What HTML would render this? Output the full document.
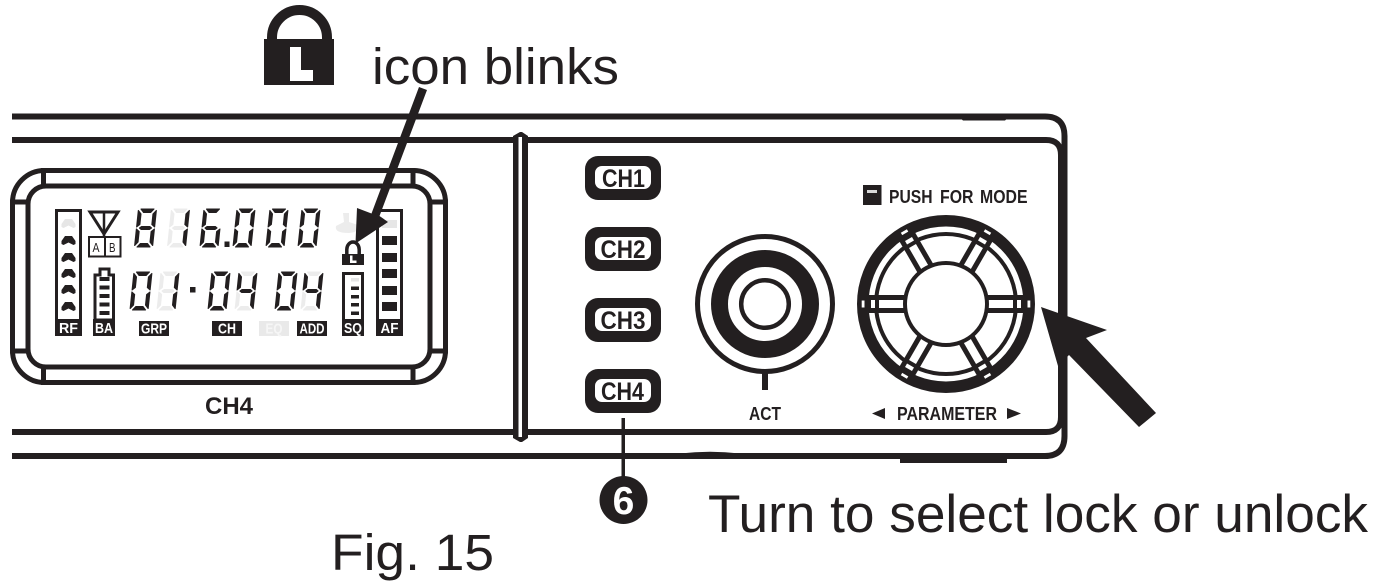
<!DOCTYPE html>
<html>
<head>
<meta charset="utf-8">
<style>
html,body{margin:0;padding:0;background:#fff;width:1377px;height:587px;overflow:hidden}
svg{display:block}
text{font-family:"Liberation Sans",sans-serif;fill:#231f20}
.b{font-weight:bold}
.w{fill:#fff;font-weight:bold;font-size:15px;text-anchor:middle}
</style>
</head>
<body>
<svg width="1377" height="587" viewBox="0 0 1377 587" xmlns="http://www.w3.org/2000/svg">
<rect width="1377" height="587" fill="#fff"/>

<!-- frame -->
<g fill="none" stroke="#231f20">
<path d="M12 116.500H1045Q1064.500 116.500 1064.500 136V436Q1064.500 456 1045 456H12" stroke-width="6"/>
<path d="M12 140H1046Q1061 140 1061 155V417Q1061 432 1046 432H12" stroke-width="6"/>
</g>
<path d="M958 116H1010L1005 120.500H963Z" fill="#231f20"/>
<rect x="900" y="456" width="107" height="7" fill="#231f20"/>
<path d="M680 453.500Q710 450 740 453.500V457H680Z" fill="#231f20"/>

<!-- divider -->
<rect x="513" y="135" width="15" height="304" fill="#fff"/>
<path d="M513 136L520 132L522 132L528 136V438L522 442H520L513 438Z" fill="#231f20"/>
<rect x="518.500" y="137" width="3.500" height="300" fill="#fff"/>

<!-- LCD bezel -->
<g fill="none" stroke="#231f20" stroke-width="5">
<rect x="12.500" y="170.500" width="433" height="212" rx="32" ry="32"/>
<rect x="28" y="186" width="402" height="181" rx="18" ry="18"/>
<path d="M43.500 168V186M413 168V186M43.500 367V385M413 367V385M10 202H28M430 202H448M10 351H28M430 351H448"/>
</g>

<!-- RF -->
<rect x="56.500" y="210.500" width="24" height="110" fill="none" stroke="#231f20" stroke-width="3"/>
<rect x="55" y="319" width="27" height="17" fill="#231f20"/>
<text class="w" x="68.500" y="333" textLength="19" lengthAdjust="spacingAndGlyphs">RF</text>
<path d="M61.500 224L65 219H72L75.500 224V227L73.500 228L68.500 225.500L63.500 228L61.500 227Z" fill="#e6e6e6"/>
<g fill="#231f20">
<path d="M61.500 241L65 236H72L75.500 241V244L73.500 245L68.500 242.500L63.500 245L61.500 244Z"/>
<path d="M61.500 258L65 253H72L75.500 258V261L73.500 262L68.500 259.500L63.500 262L61.500 261Z"/>
<path d="M61.500 274L65 269H72L75.500 274V277L73.500 278L68.500 275.500L63.500 278L61.500 277Z"/>
<path d="M61.500 290L65 285H72L75.500 290V293L73.500 294L68.500 291.500L63.500 294L61.500 293Z"/>
<path d="M61.500 307L65 302H72L75.500 307V310L73.500 311L68.500 308.500L63.500 311L61.500 310Z"/>
</g>

<!-- antenna -->
<g fill="none" stroke="#231f20">
<path d="M90 212H118L104 234Z" stroke-width="3"/>
<path d="M104 211V236" stroke-width="2.500"/>
<rect x="89" y="237" width="31.500" height="19.500" fill="#fff" stroke-width="2"/>
<path d="M105 237V257" stroke-width="2"/>
</g>
<text x="92.500" y="252" font-size="13" textLength="7" lengthAdjust="spacingAndGlyphs">A</text>
<text x="109" y="252" font-size="13" textLength="6.500" lengthAdjust="spacingAndGlyphs">B</text>

<!-- BA -->
<path d="M95 275H100V269H109V275H113.500V320H95Z" fill="#fff" stroke="#231f20" stroke-width="3"/>
<rect x="93" y="319" width="22" height="17" fill="#231f20"/>
<text class="w" x="104" y="333" textLength="18" lengthAdjust="spacingAndGlyphs">BA</text>
<g fill="#231f20">
<rect x="99.500" y="277" width="10" height="4"/>
<rect x="99.500" y="285.500" width="10" height="4"/>
<rect x="99.500" y="294" width="10" height="4"/>
<rect x="99.500" y="302.500" width="10" height="4"/>
<rect x="99.500" y="311" width="10" height="4"/>
</g>

<!-- seven-segment digits -->
<g fill="#ececec" stroke="#ececec" stroke-width="1" stroke-linejoin="round">
<path transform="translate(171.500 209) skewX(-6)" d="M2.500 0H15.500L12.500 3.500H5.500ZM0 1.500V18L3 15.500V5ZM3 19L5 17.500H13L15 19L13 20.500H5ZM0 20V36.500L3 33V22.500ZM2.500 38H15.500L12.500 34.500H5.500Z"/>
<path transform="translate(161 272) skewX(-6)" d="M2.500 0H15.500L12.500 3.500H5.500ZM0 1.500V18L3 15.500V5ZM3 19L5 17.500H13L15 19L13 20.500H5ZM0 20V36.500L3 33V22.500ZM2.500 38H15.500L12.500 34.500H5.500Z"/>
<path transform="translate(239 272) skewX(-6)" d="M2.500 0H15.500L12.500 3.500H5.500ZM0 20V36.500L3 33V22.500ZM2.500 38H15.500L12.500 34.500H5.500Z"/>
<path transform="translate(305 272) skewX(-6)" d="M2.500 0H15.500L12.500 3.500H5.500ZM0 20V36.500L3 33V22.500ZM2.500 38H15.500L12.500 34.500H5.500Z"/>
</g>
<g fill="#231f20" stroke="#231f20" stroke-width="1.100" stroke-linejoin="round">
<path transform="translate(138.500 209) skewX(-6)" d="M2.500 0H15.500L12.500 3.500H5.500ZM18 1.500V18L15 15.500V5ZM18 20V36.500L15 33V22.500ZM2.500 38H15.500L12.500 34.500H5.500ZM0 20V36.500L3 33V22.500ZM0 1.500V18L3 15.500V5ZM3 19L5 17.500H13L15 19L13 20.500H5Z"/>
<path transform="translate(171.500 209) skewX(-6)" d="M18 1.500V18L15 15.500V5ZM18 20V36.500L15 33V22.500Z"/>
<path transform="translate(204 209) skewX(-6)" d="M2.500 0H15.500L12.500 3.500H5.500ZM18 20V36.500L15 33V22.500ZM2.500 38H15.500L12.500 34.500H5.500ZM0 20V36.500L3 33V22.500ZM0 1.500V18L3 15.500V5ZM3 19L5 17.500H13L15 19L13 20.500H5Z"/>
<path transform="translate(237 209) skewX(-6)" d="M2.500 0H15.500L12.500 3.500H5.500ZM18 1.500V18L15 15.500V5ZM18 20V36.500L15 33V22.500ZM2.500 38H15.500L12.500 34.500H5.500ZM0 20V36.500L3 33V22.500ZM0 1.500V18L3 15.500V5Z"/>
<path transform="translate(270 209) skewX(-6)" d="M2.500 0H15.500L12.500 3.500H5.500ZM18 1.500V18L15 15.500V5ZM18 20V36.500L15 33V22.500ZM2.500 38H15.500L12.500 34.500H5.500ZM0 20V36.500L3 33V22.500ZM0 1.500V18L3 15.500V5Z"/>
<path transform="translate(302 209) skewX(-6)" d="M2.500 0H15.500L12.500 3.500H5.500ZM18 1.500V18L15 15.500V5ZM18 20V36.500L15 33V22.500ZM2.500 38H15.500L12.500 34.500H5.500ZM0 20V36.500L3 33V22.500ZM0 1.500V18L3 15.500V5Z"/>

<path transform="translate(134 272) skewX(-6)" d="M2.500 0H15.500L12.500 3.500H5.500ZM18 1.500V18L15 15.500V5ZM18 20V36.500L15 33V22.500ZM2.500 38H15.500L12.500 34.500H5.500ZM0 20V36.500L3 33V22.500ZM0 1.500V18L3 15.500V5Z"/>
<path transform="translate(161 272) skewX(-6)" d="M18 1.500V18L15 15.500V5ZM18 20V36.500L15 33V22.500Z"/>
<path transform="translate(212 272) skewX(-6)" d="M2.500 0H15.500L12.500 3.500H5.500ZM18 1.500V18L15 15.500V5ZM18 20V36.500L15 33V22.500ZM2.500 38H15.500L12.500 34.500H5.500ZM0 20V36.500L3 33V22.500ZM0 1.500V18L3 15.500V5Z"/>
<path transform="translate(239 272) skewX(-6)" d="M18 1.500V18L15 15.500V5ZM18 20V36.500L15 33V22.500ZM0 1.500V18L3 15.500V5ZM3 19L5 17.500H13L15 19L13 20.500H5Z"/>
<path transform="translate(279 272) skewX(-6)" d="M2.500 0H15.500L12.500 3.500H5.500ZM18 1.500V18L15 15.500V5ZM18 20V36.500L15 33V22.500ZM2.500 38H15.500L12.500 34.500H5.500ZM0 20V36.500L3 33V22.500ZM0 1.500V18L3 15.500V5Z"/>
<path transform="translate(305 272) skewX(-6)" d="M18 1.500V18L15 15.500V5ZM18 20V36.500L15 33V22.500ZM0 1.500V18L3 15.500V5ZM3 19L5 17.500H13L15 19L13 20.500H5Z"/>
</g>
<rect x="224.500" y="241.500" width="5" height="5.500" fill="#231f20"/>
<rect x="190" y="287" width="5.500" height="5.500" fill="#231f20"/>

<!-- LCD labels -->
<rect x="139" y="321" width="30" height="15" fill="#231f20"/>
<text class="w" x="154" y="333.500" textLength="26" lengthAdjust="spacingAndGlyphs">GRP</text>
<rect x="212" y="321" width="30" height="15" fill="#231f20"/>
<text class="w" x="227" y="333.500" textLength="18" lengthAdjust="spacingAndGlyphs">CH</text>
<rect x="259" y="321" width="30" height="15" fill="#e9e9e9"/>
<text class="w" x="274" y="333.500" textLength="17" lengthAdjust="spacingAndGlyphs" style="fill:#f6f6f6">EQ</text>
<rect x="297" y="321" width="30" height="15" fill="#231f20"/>
<text class="w" x="312" y="333.500" textLength="25" lengthAdjust="spacingAndGlyphs">ADD</text>

<!-- ghost bell -->
<path d="M343 213H349V222L358 225Q361 232 349 233Q334 233 336 226L344 222Z" fill="#ececec"/>

<!-- SQ -->
<rect x="343.500" y="273.500" width="19" height="47" fill="#fff" stroke="#231f20" stroke-width="3"/>
<rect x="342" y="319" width="22" height="17" fill="#231f20"/>
<text class="w" x="353" y="333" textLength="18" lengthAdjust="spacingAndGlyphs">SQ</text>
<rect x="351" y="278" width="8" height="3.500" fill="#e6e6e6"/>
<g fill="#231f20">
<rect x="351" y="286.500" width="8" height="3.500"/>
<rect x="351" y="295" width="8" height="3.500"/>
<rect x="351" y="303" width="8" height="3.500"/>
<rect x="351" y="311.500" width="8" height="3.500"/>
</g>

<!-- AF -->
<rect x="377.500" y="210.500" width="24" height="110" fill="none" stroke="#231f20" stroke-width="3"/>
<rect x="376" y="319" width="27" height="17" fill="#231f20"/>
<text class="w" x="389.500" y="333" textLength="18" lengthAdjust="spacingAndGlyphs">AF</text>
<rect x="382" y="220" width="15" height="8" fill="#e6e6e6"/>
<g fill="#231f20">
<rect x="382" y="236" width="15" height="9"/>
<rect x="382" y="253" width="15" height="9"/>
<rect x="382" y="269" width="15" height="9"/>
<rect x="382" y="286" width="15" height="9"/>
<rect x="382" y="302" width="15" height="9"/>
</g>

<!-- small lock -->
<path d="M346.800 255V249.500A6.200 7.500 0 0 1 359.200 249.500V255" fill="none" stroke="#231f20" stroke-width="3.500"/>
<rect x="342" y="254" width="22" height="11" fill="#231f20"/>
<path d="M350 255.500H352.500V260.500H356.500V263H350Z" fill="#fff"/>

<!-- blink arrow -->
<path d="M419 87L427 90L379.500 216L388 222L355.500 243.500L357 208L371.500 213.500Z" fill="#231f20"/>

<!-- CH4 under LCD -->
<text class="b" x="205" y="414" font-size="24" textLength="48" lengthAdjust="spacingAndGlyphs">CH4</text>

<!-- big lock -->
<path d="M272 42V37.500A27.500 27.500 0 0 1 327 37.500V42" fill="none" stroke="#231f20" stroke-width="10"/>
<rect x="264" y="39" width="70" height="46" fill="#231f20"/>
<path d="M290 47H301V70H313V81H290Z" fill="#fff"/>
<text x="372" y="84" font-size="51" textLength="247" lengthAdjust="spacingAndGlyphs">icon blinks</text>

<!-- CH buttons -->
<g fill="#231f20">
<rect x="585" y="156" width="76" height="44" rx="13"/>
<rect x="585" y="227" width="76" height="44" rx="13"/>
<rect x="585" y="298" width="76" height="44" rx="13"/>
<rect x="585" y="369" width="76" height="44" rx="13"/>
</g>
<g fill="#fff">
<rect x="595" y="166" width="56" height="23" rx="7"/>
<rect x="595" y="237" width="56" height="23" rx="7"/>
<rect x="595" y="308" width="56" height="23" rx="7"/>
<rect x="595" y="379" width="56" height="23" rx="7"/>
</g>
<text class="b" x="602" y="187" font-size="25" textLength="43" lengthAdjust="spacingAndGlyphs">CH1</text>
<text class="b" x="600.500" y="258" font-size="25" textLength="45" lengthAdjust="spacingAndGlyphs">CH2</text>
<text class="b" x="600.500" y="329" font-size="25" textLength="45" lengthAdjust="spacingAndGlyphs">CH3</text>
<text class="b" x="601" y="400" font-size="25" textLength="43" lengthAdjust="spacingAndGlyphs">CH4</text>

<!-- callout 6 -->
<rect x="621.500" y="418" width="3.500" height="60" fill="#231f20"/>
<circle cx="623.500" cy="500" r="24" fill="#231f20"/>
<text class="b" x="623.500" y="514" font-size="39" text-anchor="middle" style="fill:#fff">6</text>

<!-- ACT knob -->
<circle cx="765" cy="304" r="67.500" fill="none" stroke="#231f20" stroke-width="5"/>
<circle cx="765" cy="304" r="45.500" fill="none" stroke="#231f20" stroke-width="17"/>
<circle cx="765" cy="304" r="23.800" fill="none" stroke="#231f20" stroke-width="4.500"/>
<rect x="762" y="372" width="6" height="18" fill="#231f20"/>
<text class="b" x="749" y="420" font-size="18" textLength="32" lengthAdjust="spacingAndGlyphs">ACT</text>

<!-- PUSH FOR MODE -->
<rect x="863" y="185" width="18.500" height="20" fill="#231f20"/>
<rect x="867" y="190" width="10" height="3" fill="#d8d8d8"/>
<text class="b" x="889" y="203" font-size="18" textLength="43.500" lengthAdjust="spacingAndGlyphs">PUSH</text>
<text class="b" x="940" y="203" font-size="18" textLength="33.500" lengthAdjust="spacingAndGlyphs">FOR</text>
<text class="b" x="980" y="203" font-size="18" textLength="47.500" lengthAdjust="spacingAndGlyphs">MODE</text>

<!-- Parameter knob -->
<g transform="translate(946 304)">
<circle r="83.250" fill="none" stroke="#231f20" stroke-width="11.500"/>
<circle r="70" fill="none" stroke="#231f20" stroke-width="4"/>
<g>
<path d="M40 -9H80V9H40Z" fill="#231f20"/>
<rect x="42" y="-4" width="25" height="8" fill="#fff"/>
<rect x="71" y="-4" width="4" height="8" fill="#fff"/>
<rect x="81.500" y="-3.500" width="2.800" height="7" fill="#fff"/>
</g>
<g transform="rotate(60)">
<path d="M40 -9H80V9H40Z" fill="#231f20"/>
<rect x="42" y="-4" width="25" height="8" fill="#fff"/>
<rect x="71" y="-4" width="4" height="8" fill="#fff"/>
<rect x="81.500" y="-3.500" width="2.800" height="7" fill="#fff"/>
</g>
<g transform="rotate(120)">
<path d="M40 -9H80V9H40Z" fill="#231f20"/>
<rect x="42" y="-4" width="25" height="8" fill="#fff"/>
<rect x="71" y="-4" width="4" height="8" fill="#fff"/>
<rect x="81.500" y="-3.500" width="2.800" height="7" fill="#fff"/>
</g>
<g transform="rotate(180)">
<path d="M40 -9H80V9H40Z" fill="#231f20"/>
<rect x="42" y="-4" width="25" height="8" fill="#fff"/>
<rect x="71" y="-4" width="4" height="8" fill="#fff"/>
<rect x="81.500" y="-3.500" width="2.800" height="7" fill="#fff"/>
</g>
<g transform="rotate(240)">
<path d="M40 -9H80V9H40Z" fill="#231f20"/>
<rect x="42" y="-4" width="25" height="8" fill="#fff"/>
<rect x="71" y="-4" width="4" height="8" fill="#fff"/>
<rect x="81.500" y="-3.500" width="2.800" height="7" fill="#fff"/>
</g>
<g transform="rotate(300)">
<path d="M40 -9H80V9H40Z" fill="#231f20"/>
<rect x="42" y="-4" width="25" height="8" fill="#fff"/>
<rect x="71" y="-4" width="4" height="8" fill="#fff"/>
<rect x="81.500" y="-3.500" width="2.800" height="7" fill="#fff"/>
</g>
<circle r="41" fill="#fff" stroke="#231f20" stroke-width="4"/>
</g>

<!-- PARAMETER -->
<path d="M872 413.500L885 408V419Z" fill="#231f20"/>
<text class="b" x="897" y="420" font-size="18" textLength="100" lengthAdjust="spacingAndGlyphs">PARAMETER</text>
<path d="M1021 413.500L1007 408V419Z" fill="#231f20"/>

<!-- big arrow -->
<path d="M1041 307L1107 330L1086 338L1156 413L1139 427L1069 355L1058 366Z" fill="#231f20"/>

<!-- captions -->
<text x="708" y="532" font-size="53" textLength="660" lengthAdjust="spacingAndGlyphs">Turn to select lock or unlock</text>
<text x="331" y="570" font-size="51" textLength="163" lengthAdjust="spacingAndGlyphs">Fig. 15</text>
</svg>
</body>
</html>
